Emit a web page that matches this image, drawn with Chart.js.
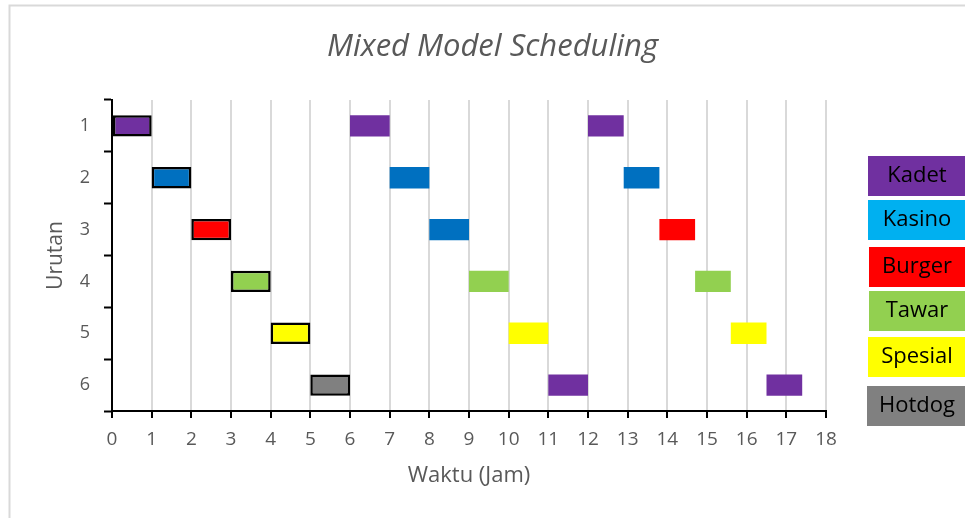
<!DOCTYPE html>
<html>
<head>
<meta charset="utf-8">
<script src="https://cdn.jsdelivr.net/npm/chart.js@4.4.1/dist/chart.umd.min.js"></script>
<style>
  body { margin: 0; background: #fff; }
  #wrap { width: 965px; height: 518px; }
</style>
</head>
<body>
<div id="wrap"><canvas id="myChart" width="965" height="518"></canvas></div>
<script>
// urutan produksi (sumbu y)
const urutan = ['1', '2', '3', '4', '5', '6'];

// putaran 1 (kotak bergaris tepi)
const mulai1 = [0, 1, 2, 3, 4, 5];
const selesai1 = [1, 2, 3, 4, 5, 6];
// putaran 2
const mulai2 = [6, 7, 8, 9, 10, 11];
const selesai2 = [7, 8, 9, 10, 11, 12];
// putaran 3
const mulai3 = [12, 12.9, 13.8, 14.7, 15.6, 16.5];
const selesai3 = [12.9, 13.8, 14.7, 15.6, 16.5, 17.4];

// produk untuk legenda
const produk = ['Kadet', 'Kasino', 'Burger', 'Tawar', 'Spesial', 'Hotdog'];

// warna
const warnaProduk = ['#7030a0', '#00b0f0', '#ff0000', '#92d050', '#ffff00', '#808080'];
const warna1 = ['#7030a0', '#0070c0', '#ff0000', '#92d050', '#ffff00', '#808080'];
const warna2 = ['#7030a0', '#0070c0', '#0070c0', '#92d050', '#ffff00', '#7030a0'];
const warna3 = ['#7030a0', '#0070c0', '#ff0000', '#92d050', '#ffff00', '#7030a0'];

const textGray = '#595959';
const fontName = "'Open Sans', sans-serif";

function pasangan(a, b) {
    return a.map((v, i) => [v, b[i]]);
}

// kotak legenda di kanan + bingkai luar
const kotakLegenda = {
    id: 'kotakLegenda',
    beforeDraw(chart) {
        const ctx = chart.ctx;
        ctx.save();
        ctx.strokeStyle = '#d9d9d9';
        ctx.lineWidth = 2;
        ctx.strokeRect(9.5, 5.5, 2000, 2000);
        ctx.restore();
    },
    afterDraw(chart) {
        const ctx = chart.ctx;
        const tops = [156, 200, 247, 291, 337, 386];
        const lefts = [868, 868, 869, 869, 868, 867];
        ctx.save();
        ctx.font = '22px ' + fontName;
        ctx.textAlign = 'center';
        ctx.textBaseline = 'alphabetic';
        produk.forEach((nama, i) => {
            ctx.fillStyle = warnaProduk[i];
            ctx.fillRect(lefts[i], tops[i], 965 - lefts[i], 40);
            ctx.fillStyle = '#000';
            ctx.fillText(nama, 917, tops[i] + 26);
        });
        ctx.restore();
    }
};

const ctx = document.getElementById('myChart').getContext('2d');
const chart = new Chart(ctx, {
    type: 'bar',
    data: {
        labels: urutan,
        datasets: [{
            label: 'Putaran 1',
            data: pasangan(mulai1, selesai1),
            backgroundColor: warna1,
            borderColor: '#000',
            borderWidth: 2.5,
            borderSkipped: false
        }, {
            label: 'Putaran 2',
            data: pasangan(mulai2, selesai2),
            backgroundColor: warna2,
            borderWidth: 0
        }, {
            label: 'Putaran 3',
            data: pasangan(mulai3, selesai3),
            backgroundColor: warna3,
            borderWidth: 0
        }]
    },
    options: {
        indexAxis: 'y',
        responsive: false,
        animation: false,
        layout: { padding: { left: 20, right: 0, top: 0, bottom: 0 } },
        datasets: {
            bar: {
                grouped: false,
                barPercentage: 0.41,
                categoryPercentage: 1
            }
        },
        plugins: {
            legend: { display: false },
            tooltip: { enabled: false },
            title: {
                display: true,
                text: 'Mixed Model Scheduling',
                color: textGray,
                font: { family: fontName, size: 31, style: 'italic', weight: 'normal', lineHeight: 1.2 },
                padding: { top: 29, bottom: 33.8 }
            }
        },
        scales: {
            x: {
                type: 'linear',
                min: 0,
                max: 18,
                ticks: {
                    stepSize: 1,
                    color: textGray,
                    font: { family: fontName, size: 19 },
                    padding: 10
                },
                grid: {
                    color: '#d9d9d9',
                    lineWidth: 2,
                    tickColor: '#000',
                    tickLength: 7,
                    tickWidth: 2
                },
                border: { display: true, color: '#000', width: 2 },
                title: {
                    display: true,
                    text: 'Waktu (Jam)',
                    color: textGray,
                    font: { family: fontName, size: 22 },
                    padding: { top: 0, bottom: 29 }
                },
                afterFit(scale) { scale.height = 107; }
            },
            y: {
                type: 'category',
                ticks: {
                    color: textGray,
                    font: { family: fontName, size: 18 },
                    padding: 14
                },
                grid: {
                    drawOnChartArea: false,
                    tickColor: '#000',
                    tickLength: 8,
                    tickWidth: 2
                },
                border: { display: true, color: '#000', width: 2 },
                title: {
                    display: true,
                    text: 'Urutan',
                    color: textGray,
                    font: { family: fontName, size: 21 },
                    padding: { top: 23, bottom: 0 }
                },
                afterFit(scale) { scale.width = 92; }
            },
            y2: {
                type: 'linear',
                position: 'right',
                display: true,
                ticks: { display: false },
                grid: { display: false },
                border: { display: false },
                afterFit(scale) { scale.width = 139; }
            }
        }
    },
    plugins: [kotakLegenda]
});
</script>
</body>
</html>
